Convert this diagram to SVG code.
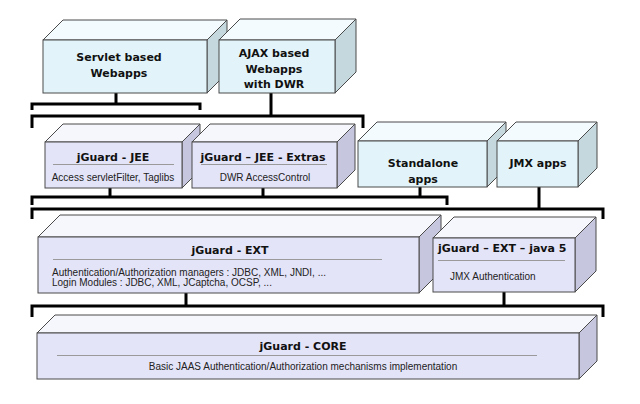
<svg xmlns="http://www.w3.org/2000/svg" width="640" height="404" viewBox="0 0 640 404">
<style>
.bf{fill:#e2f4fa;stroke:#4a4a4a;stroke-width:1}
.bt{fill:#f4fbfe;stroke:#4a4a4a;stroke-width:1}
.bs{fill:#c4d8de;stroke:#4a4a4a;stroke-width:1}
.lf{fill:#e4e4f8;stroke:#4a4a4a;stroke-width:1}
.lt{fill:#f6f6fd;stroke:#4a4a4a;stroke-width:1}
.ls{fill:#c6c6de;stroke:#4a4a4a;stroke-width:1}
.t{font-family:"DejaVu Sans",Verdana,sans-serif;font-weight:bold;font-size:11px;fill:#111}
.s{font-family:"Liberation Sans",Arial,sans-serif;font-size:10px;fill:#222}
.sep{stroke:#9a9a9a;stroke-width:1}
.c{fill:none;stroke:#000;stroke-width:3;stroke-linejoin:miter;stroke-linecap:butt}
</style>
<rect width="640" height="404" fill="#fff"/>
<g id="connectors">
<path class="c" d="M116 93V104M32 110V104H200V110"/>
<path class="c" d="M271 93V116M32 128V116H363V128"/>
<path class="c" d="M110 188V197M263 188V197M420 187V197M32 205V197H447V205"/>
<path class="c" d="M539 187V209M32 219V209H603V219"/>
<path class="c" d="M186 293V306M504 292V306M32 317V306H603V317"/>
</g>
<g id="servlet">
<polygon class="bt" points="43,40 63,20 227,20 207,40"/>
<polygon class="bs" points="207,40 227,20 227,73 207,93"/>
<rect class="bf" x="43" y="40" width="164" height="53"/>
<text class="t" x="119" y="61" text-anchor="middle">Servlet based</text>
<text class="t" x="119" y="77" text-anchor="middle">Webapps</text>
</g>
<g id="ajax">
<polygon class="bt" points="219,40 240,19 356,19 335,40"/>
<polygon class="bs" points="335,40 356,19 356,72 335,93"/>
<rect class="bf" x="219" y="40" width="116" height="53"/>
<text class="t" x="274" y="57" text-anchor="middle">AJAX based</text>
<text class="t" x="274" y="72.5" text-anchor="middle">Webapps</text>
<text class="t" x="274" y="88" text-anchor="middle">with DWR</text>
</g>
<g id="jee">
<polygon class="lt" points="45,142 63,124 200,124 182,142"/>
<polygon class="ls" points="182,142 200,124 200,170 182,188"/>
<rect class="lf" x="45" y="142" width="137" height="46"/>
<text class="t" x="113" y="161" text-anchor="middle">jGuard - JEE</text>
<line class="sep" x1="53" y1="164.5" x2="174" y2="164.5"/>
<text class="s" x="113" y="181" text-anchor="middle">Access servletFilter, Taglibs</text>
</g>
<g id="jee-extras">
<polygon class="lt" points="192,142 210,124 355,124 337,142"/>
<polygon class="ls" points="337,142 355,124 355,170 337,188"/>
<rect class="lf" x="192" y="142" width="145" height="46"/>
<text class="t" x="263" y="161" text-anchor="middle">jGuard – JEE - Extras</text>
<line class="sep" x1="201" y1="164.5" x2="327" y2="164.5"/>
<text class="s" x="265" y="181" text-anchor="middle">DWR AccessControl</text>
</g>
<g id="standalone">
<polygon class="bt" points="358,141 377,122 506,122 487,141"/>
<polygon class="bs" points="487,141 506,122 506,168 487,187"/>
<rect class="bf" x="358" y="141" width="129" height="46"/>
<text class="t" x="423" y="167" text-anchor="middle">Standalone</text>
<text class="t" x="423" y="183" text-anchor="middle">apps</text>
</g>
<g id="jmx">
<polygon class="bt" points="497,141 516,122 597,122 578,141"/>
<polygon class="bs" points="578,141 597,122 597,168 578,187"/>
<rect class="bf" x="497" y="141" width="81" height="46"/>
<text class="t" x="538" y="167" text-anchor="middle">JMX apps</text>
</g>
<g id="ext">
<polygon class="lt" points="38,237 60,215 441,215 419,237"/>
<polygon class="ls" points="419,237 441,215 441,271 419,293"/>
<rect class="lf" x="38" y="237" width="381" height="56"/>
<text class="t" x="230" y="254" text-anchor="middle">jGuard - EXT</text>
<line class="sep" x1="53" y1="259.5" x2="382" y2="259.5"/>
<text class="s" x="52" y="275.5">Authentication/Authorization managers : JDBC, XML, JNDI, ...</text>
<text class="s" x="52" y="285.5">Login Modules : JDBC, XML, JCaptcha, OCSP, ...</text>
</g>
<g id="ext-java5">
<polygon class="lt" points="433,238 454,217 596,217 575,238"/>
<polygon class="ls" points="575,238 596,217 596,271 575,292"/>
<rect class="lf" x="433" y="238" width="142" height="54"/>
<text class="t" x="438" y="252">jGuard – EXT – java 5</text>
<line class="sep" x1="438" y1="260.5" x2="565" y2="260.5"/>
<text class="s" x="450" y="280">JMX Authentication</text>
</g>
<g id="core">
<polygon class="lt" points="37,333 55,315 597,315 579,333"/>
<polygon class="ls" points="579,333 597,315 597,361 579,379"/>
<rect class="lf" x="37" y="333" width="542" height="46"/>
<text class="t" x="303" y="350" text-anchor="middle">jGuard - CORE</text>
<line class="sep" x1="57" y1="355.5" x2="537" y2="355.5"/>
<text class="s" x="303" y="370" text-anchor="middle">Basic JAAS Authentication/Authorization mechanisms implementation</text>
</g>
</svg>
